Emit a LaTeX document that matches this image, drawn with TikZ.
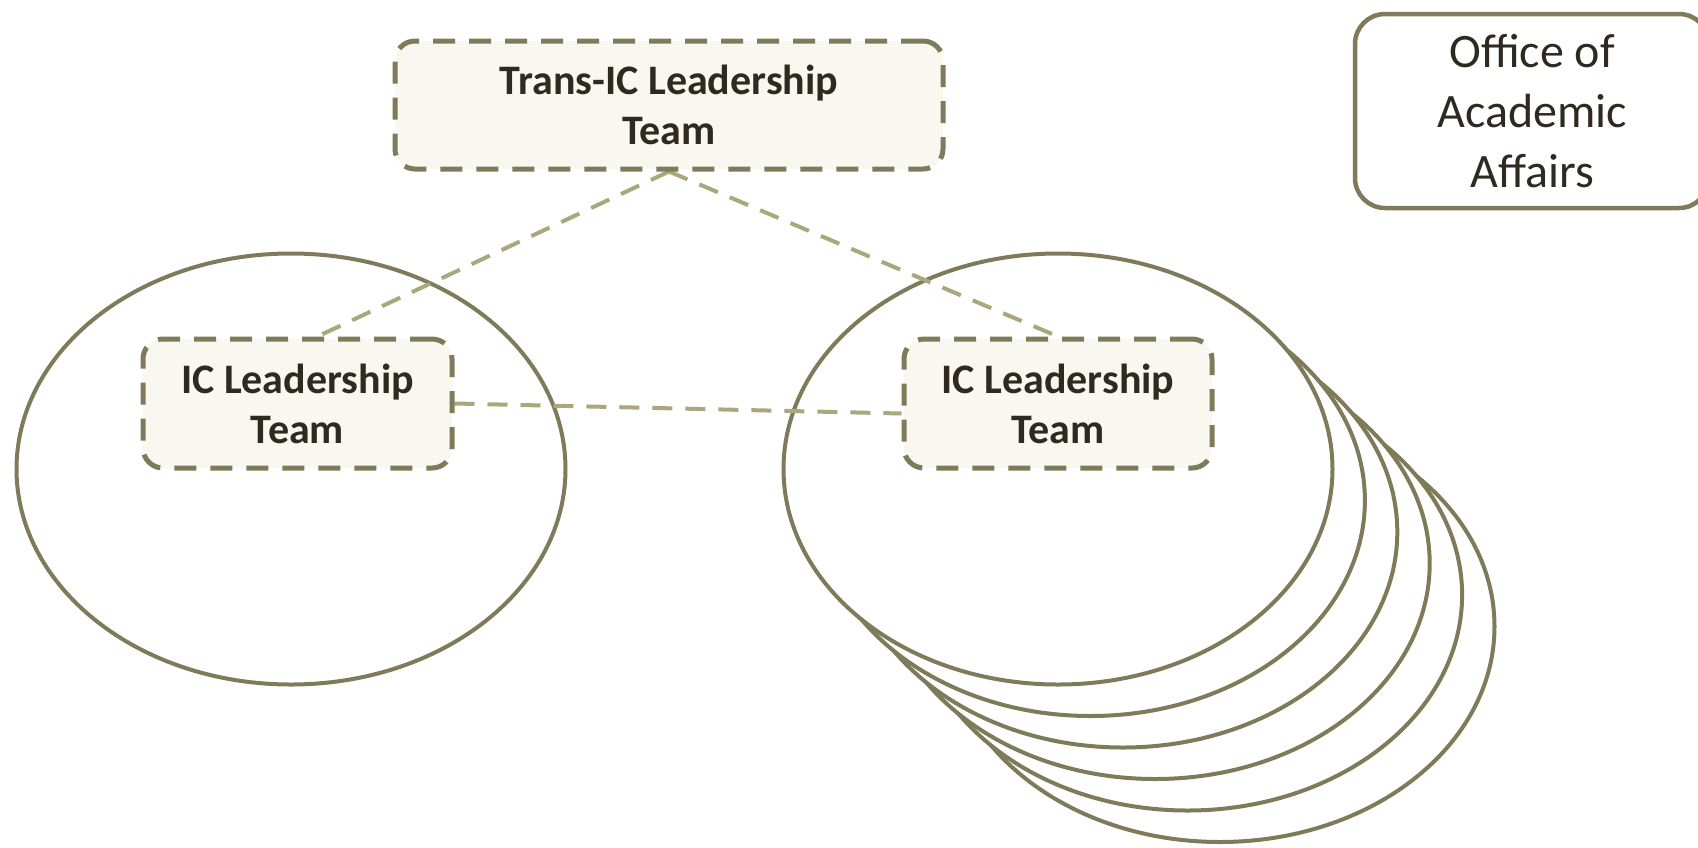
\documentclass[tikz,border=0pt]{standalone}
\usepackage{fontspec}
\setmainfont{Carlito}
\usetikzlibrary{shapes.geometric}
\definecolor{edge}{HTML}{7F7B5A}
\definecolor{conn}{HTML}{A9A77B}
\definecolor{boxfill}{HTML}{F8F7F0}
\definecolor{ink}{HTML}{2E2A20}
\pgfdeclarelayer{bg}
\pgfsetlayers{bg,main}
\begin{document}
\begin{tikzpicture}[x=1pt,y=-1pt,
 blob/.style={ellipse, draw=edge, line width=4pt, fill=white, minimum width=549pt, minimum height=431pt, inner sep=0pt},
 teambox/.style={draw=edge, fill=boxfill, rounded corners=20pt, line width=5pt, dash pattern=on 22pt off 14pt, align=center, font=\fontsize{42}{50}\selectfont\bfseries, text=ink, inner sep=0pt},
 officebox/.style={draw=edge, rounded corners=30pt, line width=4.5pt, align=center, font=\fontsize{48}{60}\selectfont, text=ink, inner sep=0pt, minimum width=354pt, minimum height=194pt},
 link/.style={draw=conn, line width=4pt, dash pattern=on 20pt off 13pt}
]
\useasboundingbox (0,0) rectangle (1698,847);
% team boxes and office box (main layer)
\node[teambox, minimum width=548pt, minimum height=128pt] (top) at (669,105) {Trans-IC Leadership\\Team};
\node[teambox, minimum width=309pt, minimum height=129pt, text depth=0pt] (icl) at (297.5,403.5) {IC Leadership\\Team};
\node[teambox, minimum width=308pt, minimum height=129pt] (icr) at (1058,403.5) {IC Leadership\\Team};
\node[officebox] (oaa) at (1532,111) {Office of\\Academic\\Affairs};
\begin{pgfonlayer}{bg}
% stacked ellipses (back to front)
\foreach \i in {5,4,3,2,1}{
  \node[blob] (b\i) at (1058+32.4*\i, 469+31.5*\i) {};
}
\node[blob] (r) at (1058,469) {};
\node[blob] (l) at (291,469) {};
% connectors
\coordinate (lt) at ([xshift=20pt]icl.north);
\coordinate (rw) at ([yshift=-10pt]icr.west);
\draw[link] (top.south) -- (lt);
\draw[link] (top.south) -- (icr.north);
\draw[link] (icl.east) -- (rw);
\end{pgfonlayer}
\end{tikzpicture}
\end{document}
